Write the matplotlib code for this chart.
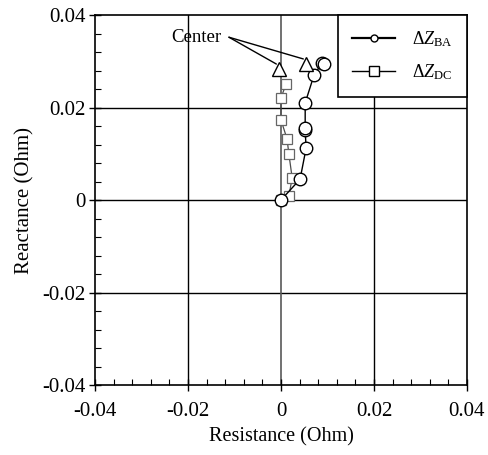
import numpy as np
import matplotlib
matplotlib.use('Agg')
import matplotlib.pyplot as plt
from matplotlib.lines import Line2D
from matplotlib.ticker import MultipleLocator, FuncFormatter

plt.rcParams['font.family'] = ['Liberation Serif', 'DejaVu Serif']
plt.rcParams['mathtext.fontset'] = 'custom'
plt.rcParams['mathtext.rm'] = 'Liberation Serif'
plt.rcParams['mathtext.it'] = 'Liberation Serif:italic'

# data
ba_r = [0.0, 0.0041, 0.0054, 0.0052, 0.0052, 0.0052, 0.0071, 0.0088, 0.0092]
ba_x = [0.0, 0.0045, 0.0112, 0.0151, 0.0156, 0.0210, 0.0270, 0.0296, 0.0294]
dc_r = [0.0, 0.0017, 0.0024, 0.0017, 0.0013, 0.0, 0.0, 0.0011]
dc_x = [0.0, 0.0009, 0.0048, 0.0099, 0.0132, 0.0173, 0.0221, 0.0251]
center_r = [-0.0004, 0.0054]
center_x = [0.0283, 0.0294]

fig = plt.figure(figsize=(4.89, 4.55), dpi=100)
ax = fig.add_axes([0.1943, 0.1538, 0.7607, 0.8132])

for v in [-0.02, 0.0, 0.02]:
    ax.axhline(v, color='black', lw=1.0, zorder=1)
    ax.axvline(v, color='0.35' if v == 0 else 'black', lw=1.2 if v == 0 else 1.0, zorder=1)

ax.plot(ba_r, ba_x, color='black', lw=1.0, marker='o', ms=9, mfc='white',
        mec='black', mew=1.0, zorder=4)
ax.plot(dc_r, dc_x, color='0.3', lw=0.9, marker='s', ms=7, mfc='white',
        mec='0.4', mew=0.9, zorder=3)
ax.plot(center_r, center_x, ls='none', marker='^', ms=10, mfc='white',
        mec='black', mew=1.0, zorder=5)

ax.text(-0.0183, 0.0352, 'Center', fontsize=13.5, ha='center', va='center')
for r, x in zip(center_r, center_x):
    ax.annotate('', xy=(r - 0.0006, x + 0.0011), xytext=(-0.0112, 0.0352),
                arrowprops=dict(arrowstyle='-', color='black', lw=1.0,
                                shrinkA=0, shrinkB=0))

ax.set_xlim(-0.04, 0.04)
ax.set_ylim(-0.04, 0.04)
ax.xaxis.set_major_locator(MultipleLocator(0.02))
ax.yaxis.set_major_locator(MultipleLocator(0.02))
ax.xaxis.set_minor_locator(MultipleLocator(0.004))
ax.yaxis.set_minor_locator(MultipleLocator(0.004))
fmt = FuncFormatter(lambda v, p: '0' if abs(v) < 1e-9 else f'{v:.2f}')
ax.xaxis.set_major_formatter(fmt)
ax.yaxis.set_major_formatter(fmt)
ax.tick_params(which='major', direction='inout', length=9, width=1.0, labelsize=15)
ax.tick_params(axis='x', which='major', pad=8)
ax.tick_params(axis='y', which='major', pad=2)
ax.tick_params(which='minor', direction='in', length=4, width=0.8)
for s in ax.spines.values():
    s.set_linewidth(1.2)

ax.set_xlabel('Resistance (Ohm)', fontsize=14.5, labelpad=4)
ax.set_ylabel('Reactance (Ohm)', fontsize=15, labelpad=6)

handles = [
    Line2D([], [], color='black', lw=1.6, marker='o', ms=5, mfc='white', mec='black'),
    Line2D([], [], color='black', lw=1.0, marker='s', ms=7, mfc='white', mec='black'),
]
labels = [r'$\mathit{ΔZ}_{\rm BA}$', r'$\mathit{ΔZ}_{\rm DC}$']
leg = ax.legend(handles, labels, loc='upper right', fontsize=13, frameon=True,
                fancybox=False, edgecolor='black', framealpha=1, borderaxespad=0,
                handlelength=2.4, borderpad=0.8, labelspacing=0.75, handletextpad=0.9)
leg.get_frame().set_linewidth(1.2)
leg.set_zorder(10)

fig.savefig('out.png', dpi=100)
